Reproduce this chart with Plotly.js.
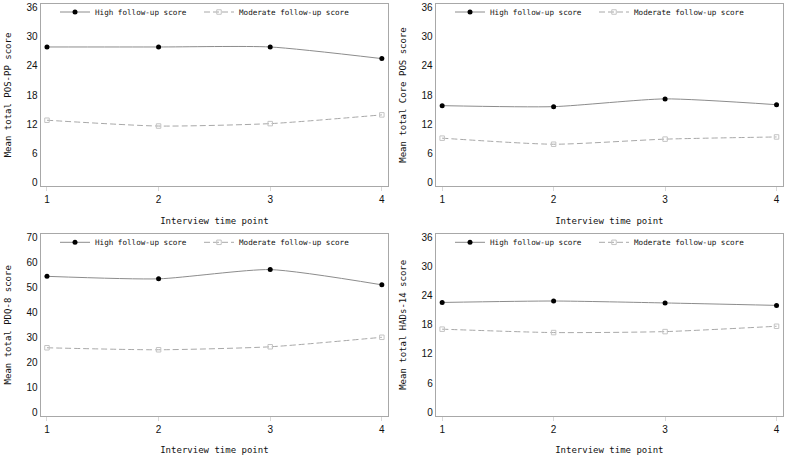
<!DOCTYPE html>
<html>
<head>
<meta charset="utf-8">
<script src="https://cdn.plot.ly/plotly-3.0.1.min.js"></script>
<style>html,body{margin:0;padding:0;background:#fff;}#chart{width:787px;height:459px;}</style>
</head>
<body>
<div id="chart"></div>
<script>
const timePoints = [1, 2, 3, 4];
const xTickLabels = ['1', '2', '3', '4'];
const seriesNames = ['High follow-up score', 'Moderate follow-up score'];
const panelTitlesY = ['Mean total POS-PP score', 'Mean total Core POS score', 'Mean total PDQ-8 score', 'Mean total HADs-14 score'];
const xTitle = 'Interview time point';

const posppHigh = [27.9, 27.9, 27.9, 25.5];
const posppModerate = [12.8, 11.6, 12.1, 13.9];
const corePosHigh = [15.8, 15.6, 17.2, 16.0];
const corePosModerate = [9.1, 7.85, 8.9, 9.35];
const pdqHigh = [54.4, 53.4, 57.1, 51.0];
const pdqModerate = [25.8, 25.0, 26.2, 30.0];
const hadsHigh = [22.6, 22.9, 22.5, 22.0];
const hadsModerate = [17.1, 16.4, 16.6, 17.7];

const panels = [
  {high: posppHigh, mod: posppModerate, yMax: 36, dtick: 6},
  {high: corePosHigh, mod: corePosModerate, yMax: 36, dtick: 6},
  {high: pdqHigh, mod: pdqModerate, yMax: 70, dtick: 10},
  {high: hadsHigh, mod: hadsModerate, yMax: 36, dtick: 6}
];

const W = 787, H = 459;
const xDomains = [[40.5 / W, 388.3 / W], [435.7 / W, 783 / W]];
const yDomains = [[1 - 185.7 / H, 1 - 4.3 / H], [1 - 415.6 / H, 1 - 234 / H]];
const legendCenters = [12, 242.3];

const mono = 'DejaVu Sans Mono, monospace';
const sans = 'Liberation Sans, Arial, sans-serif';

const data = [];
const layout = {
  width: W, height: H,
  margin: {l: 0, r: 0, t: 0, b: 0, autoexpand: false},
  paper_bgcolor: '#fff', plot_bgcolor: '#fff',
  showlegend: true
};

function legendName(k) { return k === 0 ? 'legend' : 'legend' + (k + 1); }

panels.forEach((p, i) => {
  const n = i + 1;
  const xa = n === 1 ? 'x' : 'x' + n;
  const ya = n === 1 ? 'y' : 'y' + n;
  const lgHigh = legendName(2 * i);
  const lgMod = legendName(2 * i + 1);
  const col = i % 2, row = Math.floor(i / 2);
  data.push({
    x: timePoints, y: p.high, xaxis: xa, yaxis: ya, legend: lgHigh,
    name: seriesNames[0], type: 'scatter', mode: 'lines+markers',
    line: {color: '#8c8c8c', width: 1, shape: 'spline', smoothing: 0.6},
    marker: {symbol: 'circle', color: '#000', size: 5}
  });
  data.push({
    x: timePoints, y: p.mod, xaxis: xa, yaxis: ya, legend: lgMod,
    name: seriesNames[1], type: 'scatter', mode: 'lines+markers',
    line: {color: '#a8a8a8', width: 1, dash: '6px,3px', shape: 'spline', smoothing: 0.6},
    marker: {symbol: 'square-open', color: '#c4c4c4', size: 4.5, line: {width: 1, color: '#c4c4c4'}}
  });
  const pad = p.yMax === 70 ? 1.35 : 0.7;
  layout[n === 1 ? 'xaxis' : 'xaxis' + n] = {
    domain: xDomains[col], anchor: ya,
    range: [0.942, 4.058],
    tickvals: timePoints, ticktext: xTickLabels,
    ticks: 'outside', ticklen: 4, tickcolor: '#d8d8d8', tickwidth: 1,
    showline: true, linecolor: '#a8a8a8', linewidth: 1, mirror: true,
    showgrid: false, zeroline: false,
    tickfont: {family: sans, size: 10, color: '#111'},
    title: {text: xTitle, font: {family: mono, size: 9, color: '#111'}, standoff: 13}
  };
  layout[n === 1 ? 'yaxis' : 'yaxis' + n] = {
    domain: yDomains[row], anchor: xa,
    range: [-pad, p.yMax + pad],
    dtick: p.dtick, tick0: 0,
    ticks: '', showline: true, linecolor: '#a8a8a8', linewidth: 1, mirror: true,
    showgrid: false, zeroline: false,
    tickfont: {family: sans, size: 10, color: '#111'},
    title: {text: panelTitlesY[i], font: {family: mono, size: 9, color: '#111'}, standoff: 13}
  };
  const off = col === 0 ? 0 : 395;
  const legY = 1 - legendCenters[row] / H;
  const legBase = {
    orientation: 'h', y: legY, xanchor: 'left', yanchor: 'middle',
    bgcolor: 'rgba(0,0,0,0)', borderwidth: 0,
    font: {family: mono, size: 7.6, color: '#111'},
    itemwidth: 30
  };
  layout[lgHigh] = Object.assign({}, legBase, {x: (55 + off) / W});
  layout[lgMod] = Object.assign({}, legBase, {x: (199 + off) / W});
});

Plotly.newPlot('chart', data, layout, {staticPlot: true, displayModeBar: false});
</script>
</body>
</html>
